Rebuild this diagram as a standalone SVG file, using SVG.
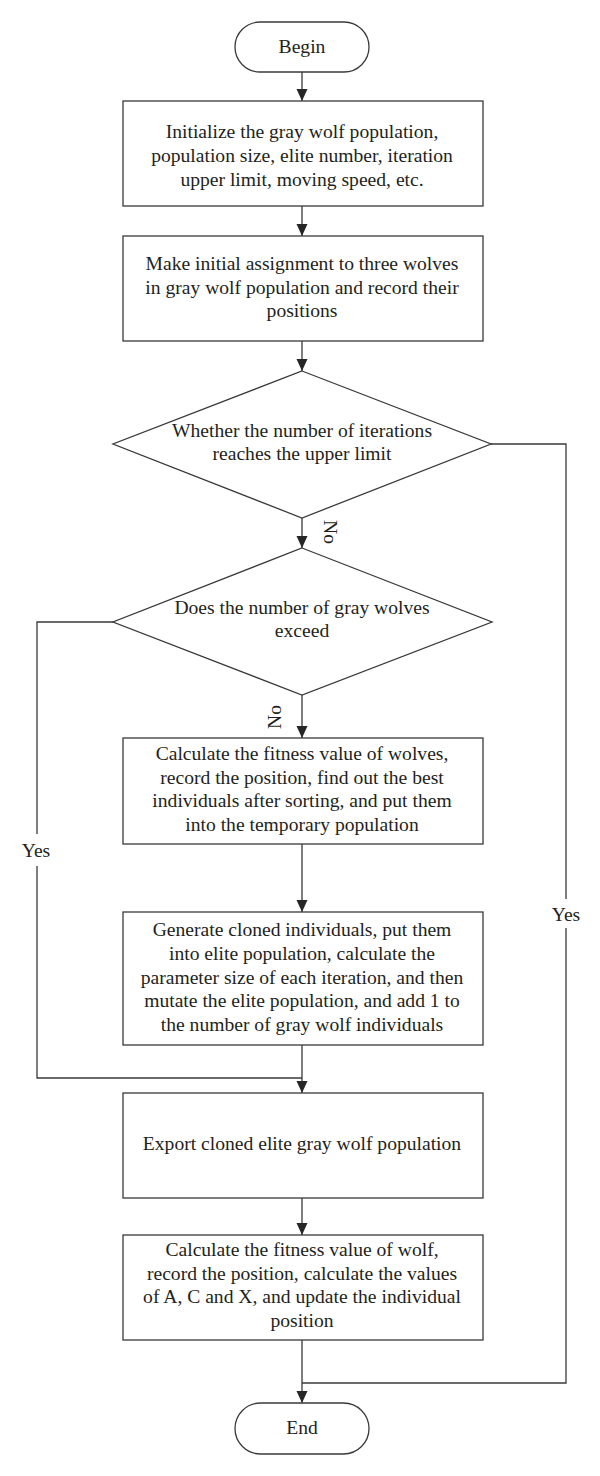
<svg xmlns="http://www.w3.org/2000/svg" width="600" height="1476" viewBox="0 0 600 1476">
<defs>
<marker id="arr" viewBox="0 0 12 12" refX="12" refY="6" markerWidth="12" markerHeight="12" markerUnits="userSpaceOnUse" orient="auto">
<path d="M0,0.5 L12,6 L0,11.5 Z" fill="#262626"/>
</marker>
<style>
.shape{fill:#fff;stroke:#3a3a3a;stroke-width:1.3}
.line{fill:none;stroke:#3a3a3a;stroke-width:1.3}
text{font-family:"Liberation Serif","Times New Roman",serif;font-size:19.6px;fill:#231f20;text-anchor:middle}
</style>
</defs>
<rect width="600" height="1476" fill="#fff"/>
<g id="connectors">
<path class="line" d="M302,72 V101" marker-end="url(#arr)"/>
<path class="line" d="M302,206 V236" marker-end="url(#arr)"/>
<path class="line" d="M302,341 V371" marker-end="url(#arr)"/>
<path class="line" d="M302,518 V548" marker-end="url(#arr)"/>
<path class="line" d="M302,695 V738" marker-end="url(#arr)"/>
<path class="line" d="M302,844 V912" marker-end="url(#arr)"/>
<path class="line" d="M302,1045 V1093" marker-end="url(#arr)"/>
<path class="line" d="M113,622 H37 V834"/>
<path class="line" d="M37,866 V1078 H302"/>
<path class="line" d="M302,1198 V1235" marker-end="url(#arr)"/>
<path class="line" d="M302,1340 V1403" marker-end="url(#arr)"/>
<path class="line" d="M491,444 H566 V899"/>
<path class="line" d="M566,928 V1383 H302"/>
<text transform="translate(324,532) rotate(90)">No</text>
<text transform="translate(281,717) rotate(-90)">No</text>
<text x="36" y="857">Yes</text>
<text x="566" y="921">Yes</text>
</g>
<g id="begin">
<rect class="shape" x="235" y="22" width="134" height="50" rx="25" ry="25"/>
<text x="302" y="53">Begin</text>
</g>
<g id="init">
<rect class="shape" x="123" y="101" width="360" height="105"/>
<text x="302" y="138">Initialize the gray wolf population,</text>
<text x="302" y="162">population size, elite number, iteration</text>
<text x="302" y="186">upper limit, moving speed, etc.</text>
</g>
<g id="assign">
<rect class="shape" x="123" y="236" width="360" height="105"/>
<text x="302" y="270">Make initial assignment to three wolves</text>
<text x="302" y="294">in gray wolf population and record their</text>
<text x="302" y="317">positions</text>
</g>
<g id="iterCheck">
<polygon class="shape" points="302,371 491,444 302,518 113,444"/>
<text x="302" y="437">Whether the number of iterations</text>
<text x="302" y="460">reaches the upper limit</text>
</g>
<g id="countCheck">
<polygon class="shape" points="302,548 492,622 302,695 113,622"/>
<text x="302" y="614">Does the number of gray wolves</text>
<text x="302" y="637">exceed</text>
</g>
<g id="fitness">
<rect class="shape" x="123" y="738" width="360" height="106"/>
<text x="302" y="760">Calculate the fitness value of wolves,</text>
<text x="302" y="784">record the position, find out the best</text>
<text x="302" y="807">individuals after sorting, and put them</text>
<text x="302" y="831">into the temporary population</text>
</g>
<g id="clone">
<rect class="shape" x="123" y="912" width="360" height="133"/>
<text x="302" y="936">Generate cloned individuals, put them</text>
<text x="302" y="960">into elite population, calculate the</text>
<text x="302" y="984">parameter size of each iteration, and then</text>
<text x="302" y="1007">mutate the elite population, and add 1 to</text>
<text x="302" y="1031">the number of gray wolf individuals</text>
</g>
<g id="export">
<rect class="shape" x="123" y="1093" width="360" height="105"/>
<text x="302" y="1150">Export cloned elite gray wolf population</text>
</g>
<g id="update">
<rect class="shape" x="123" y="1235" width="360" height="105"/>
<text x="302" y="1256">Calculate the fitness value of wolf,</text>
<text x="302" y="1280">record the position, calculate the values</text>
<text x="302" y="1303">of A, C and X, and update the individual</text>
<text x="302" y="1327">position</text>
</g>
<g id="end">
<rect class="shape" x="235" y="1403" width="134" height="51" rx="25.5" ry="25.5"/>
<text x="302" y="1434">End</text>
</g>
</svg>
